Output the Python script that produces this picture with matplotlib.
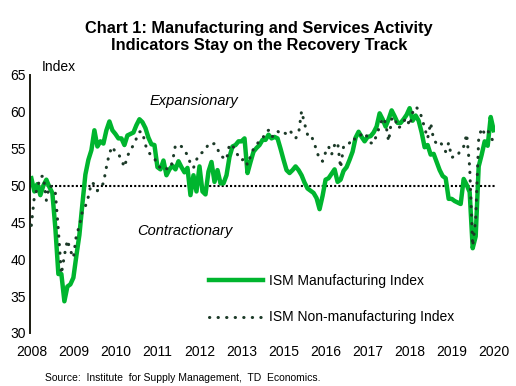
import matplotlib
matplotlib.use("Agg")
import matplotlib.pyplot as plt
from matplotlib.lines import Line2D

plt.rcParams['font.family'] = ['Liberation Sans', 'DejaVu Sans']

# ISM indices, monthly, Jan 2008 - Nov 2020
mfg = [
    51.0, 49.2, 50.2, 48.7, 50.0, 50.8, 49.8, 49.0, 44.2, 38.0, 38.0, 34.3,   # 2008
    36.3, 36.6, 37.5, 40.5, 43.3, 47.5, 51.5, 53.5, 54.8, 57.5, 55.3, 56.0,   # 2009
    55.7, 57.5, 58.7, 57.5, 57.0, 56.4, 56.4, 55.5, 56.8, 57.0, 57.2, 58.2,   # 2010
    59.0, 58.6, 57.8, 56.5, 55.6, 55.5, 52.5, 52.2, 53.4, 51.4, 52.2, 52.7,   # 2011
    52.2, 53.3, 52.5, 51.8, 52.4, 48.7, 51.4, 49.2, 52.6, 49.2, 48.8, 51.9,   # 2012
    53.2, 50.5, 52.1, 50.3, 50.3, 51.4, 53.9, 55.3, 55.5, 56.0, 56.0, 56.4,   # 2013
    51.7, 53.2, 54.6, 55.1, 55.5, 56.2, 56.2, 56.9, 56.4, 56.6, 56.4, 55.0,   # 2014
    53.5, 52.1, 51.7, 52.1, 52.6, 52.1, 51.4, 50.4, 49.6, 49.3, 49.0, 48.3,   # 2015
    46.8, 48.6, 50.8, 51.0, 51.6, 52.2, 50.5, 50.8, 52.0, 52.5, 53.5, 54.6,   # 2016
    56.5, 57.3, 56.6, 56.0, 56.6, 56.7, 57.2, 58.0, 59.8, 59.0, 58.0, 59.0,   # 2017
    60.2, 59.4, 58.5, 58.5, 59.0, 59.6, 60.5, 58.8, 59.5, 58.8, 57.2, 55.2,   # 2018
    55.5, 54.2, 54.3, 53.2, 52.1, 51.3, 51.0, 48.2, 48.2, 47.9, 47.7, 47.5,   # 2019
    50.9, 50.1, 49.1, 41.5, 43.1, 52.6, 54.2, 56.0, 55.4, 59.3, 57.5,         # 2020
]
non_mfg = [
    44.6, 48.5, 49.6, 51.2, 51.3, 48.0, 50.0, 49.8, 49.0, 44.0, 38.0, 40.5,   # 2008
    42.6, 41.2, 40.2, 43.3, 44.5, 46.5, 47.2, 48.5, 50.4, 50.2, 49.3, 49.8,   # 2009
    50.3, 52.5, 54.4, 55.3, 54.5, 54.3, 53.5, 52.5, 54.0, 54.8, 55.5, 56.4,   # 2010
    57.3, 57.3, 55.5, 54.6, 54.0, 53.7, 52.8, 52.4, 52.6, 52.3, 52.2, 53.2,   # 2011
    55.5, 55.5, 55.3, 54.8, 54.1, 53.0, 52.4, 53.5, 54.3, 54.5, 54.8, 55.7,   # 2012
    55.6, 55.7, 55.0, 54.0, 53.8, 53.5, 55.6, 55.5, 54.6, 54.0, 53.4, 53.7,   # 2013
    52.8, 54.0, 55.0, 55.6, 56.0, 56.3, 57.3, 57.5, 56.6, 56.8, 57.4, 57.0,   # 2014
    57.2, 57.0, 57.5, 57.0, 56.4, 57.0, 60.1, 58.4, 56.9, 57.0, 56.0, 54.8,   # 2015
    53.5, 53.3, 54.5, 55.3, 54.2, 55.5, 55.9, 52.4, 55.3, 55.3, 55.8, 56.5,   # 2016
    56.2, 56.5, 57.0, 57.2, 56.5, 55.8, 55.7, 56.9, 58.0, 59.2, 58.5, 56.0,   # 2017
    59.0, 59.3, 57.8, 58.0, 58.7, 59.2, 58.1, 59.9, 60.7, 60.3, 59.3, 57.8,   # 2018
    56.4, 58.5, 56.2, 55.7, 56.0, 55.4, 54.6, 55.8, 53.8, 54.0, 54.0, 55.0,   # 2019
    55.3, 57.0, 52.5, 41.8, 45.4, 56.4, 57.8, 57.0, 57.5, 56.6, 55.9,         # 2020
]
# Excel put a label every 14 months, which is why 2014 is skipped
tick_pos = [0, 14, 28, 42, 56, 70, 84, 98, 112, 126, 140, 154]
tick_labels = ['2008', '2009', '2010', '2011', '2012', '2013',
               '2015', '2016', '2017', '2018', '2019', '2020']
y_ticks = [30, 35, 40, 45, 50, 55, 60, 65]

green = '#00b52e'
dark = '#1c3a28'
dots = (0, (0.1, 2.7))
months = list(range(len(mfg)))

fig = plt.figure(figsize=(5.16, 3.86), dpi=100)
ax = fig.add_axes([30 / 516, 1 - 333 / 386, 464.6 / 516, 258 / 386])

ax.axhline(50, color='black', lw=1.5, linestyle=(0, (1, 1)), zorder=1)
ax.plot(months, mfg, color=green, lw=3.2, solid_joinstyle='round', zorder=2)
ax.plot(months, non_mfg, color=dark, lw=2.2, linestyle=dots,
        dash_capstyle='round', zorder=3)

ax.set_xlim(-0.45, 154.3)
ax.set_ylim(30, 65)
ax.set_xticks(tick_pos)
ax.set_xticklabels(tick_labels)
ax.set_yticks(y_ticks)
ax.tick_params(axis='both', length=0, labelsize=10, colors='black')
ax.tick_params(axis='x', pad=9)
ax.tick_params(axis='y', pad=3)
for s in ['top', 'right', 'bottom']:
    ax.spines[s].set_visible(False)
ax.spines['left'].set_color('#1a1a10')
ax.spines['left'].set_linewidth(1.4)
ax.set_facecolor('none')

ax.text(0.258, 0.9, 'Expansionary', transform=ax.transAxes, fontsize=10.5,
        style='italic', va='center', ha='left')
ax.text(0.23, 0.395, 'Contractionary', transform=ax.transAxes, fontsize=10.5,
        style='italic', va='center', ha='left')

handles = [Line2D([], [], color=green, lw=3.2),
           Line2D([], [], color=dark, lw=2.2, linestyle=dots,
                  dash_capstyle='round')]
fig.legend(handles, ['ISM Manufacturing Index', 'ISM Non-manufacturing Index'],
           loc='upper left', bbox_to_anchor=(196 / 516, 1 - 261 / 386),
           frameon=False, fontsize=10, handlelength=3.9, handletextpad=0.45,
           labelspacing=1.65)

fig.text(259 / 516, 1 - 37 / 386,
         'Chart 1: Manufacturing and Services Activity\nIndicators Stay on the Recovery Track',
         ha='center', va='center', fontsize=11.8, fontweight='bold', linespacing=1.2)
fig.text(42 / 516, 1 - 67 / 386, 'Index', fontsize=10, va='center', ha='left')
fig.text(45 / 516, 1 - 378 / 386,
         'Source:  Institute  for Supply Management,  TD  Economics.',
         fontsize=7.5, va='center', ha='left')

fig.savefig('out.png', dpi=100)
